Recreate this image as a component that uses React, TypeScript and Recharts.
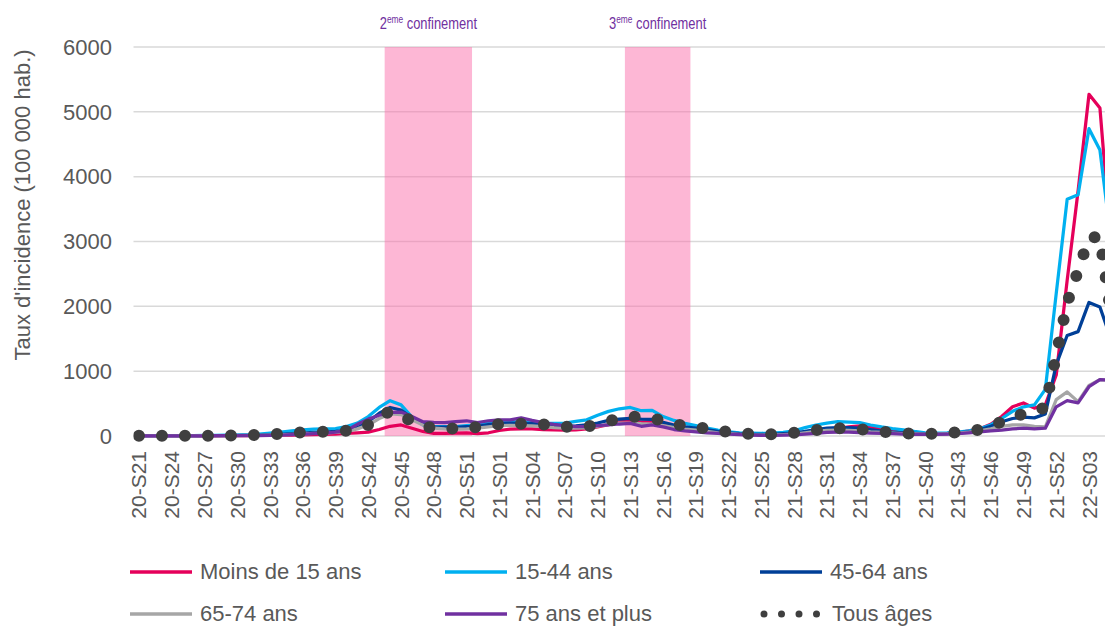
import React from 'react';
import { ComposedChart, Line, XAxis, YAxis, CartesianGrid, ReferenceArea, Legend } from 'recharts';

const FONT = '"Liberation Sans", Arial, Helvetica, sans-serif';
const TEXT = '#595959';

const weeks = [
  '20-S21','20-S22','20-S23','20-S24','20-S25','20-S26','20-S27','20-S28','20-S29','20-S30',
  '20-S31','20-S32','20-S33','20-S34','20-S35','20-S36','20-S37','20-S38','20-S39','20-S40',
  '20-S41','20-S42','20-S43','20-S44','20-S45','20-S46','20-S47','20-S48','20-S49','20-S50',
  '20-S51','20-S52','20-S53',
  '21-S01','21-S02','21-S03','21-S04','21-S05','21-S06','21-S07','21-S08','21-S09','21-S10',
  '21-S11','21-S12','21-S13','21-S14','21-S15','21-S16','21-S17','21-S18','21-S19','21-S20',
  '21-S21','21-S22','21-S23','21-S24','21-S25','21-S26','21-S27','21-S28','21-S29','21-S30',
  '21-S31','21-S32','21-S33','21-S34','21-S35','21-S36','21-S37','21-S38','21-S39','21-S40',
  '21-S41','21-S42','21-S43','21-S44','21-S45','21-S46','21-S47','21-S48','21-S49','21-S50',
  '21-S51','21-S52',
  '22-S01','22-S02','22-S03','22-S04','22-S05',
];

const moins15 = [
  2, 2, 2, 2, 2, 3, 3, 3, 4, 5,
  6, 8, 10, 12, 15, 18, 22, 25, 30, 40,
  50, 60, 100, 150, 170, 120, 70, 40, 40, 45,
  50, 35, 50, 85, 105, 110, 110, 100, 95, 90,
  95, 110, 140, 175, 220, 240, 215, 220, 190, 150,
  120, 100, 80, 60, 45, 35, 28, 22, 22, 25,
  35, 55, 75, 95, 115, 140, 155, 140, 110, 80,
  60, 40, 30, 28, 35, 50, 80, 110, 180, 300,
  450, 510, 430, 480, 940, 2400, 3780, 5270, 5060, 3000,
];

const ans15_44 = [
  5, 5, 5, 5, 6, 7, 8, 10, 12, 15,
  20, 30, 45, 60, 80, 95, 105, 110, 115, 145,
  200, 300, 440, 545, 480, 290, 170, 150, 145, 145,
  160, 170, 195, 215, 220, 215, 210, 200, 195, 200,
  225, 250, 320, 380, 420, 440, 390, 395, 300, 240,
  195, 160, 120, 90, 65, 50, 45, 42, 45, 55,
  80, 130, 170, 200, 220, 215, 205, 170, 140, 115,
  95, 70, 50, 45, 50, 60, 80, 110, 170, 270,
  380, 450, 480, 720, 2200, 3650, 3720, 4740, 4410, 3050,
];

const ans45_64 = [
  4, 4, 4, 4, 4, 5, 5, 6, 7, 8,
  10, 13, 18, 25, 35, 45, 55, 60, 70, 85,
  130, 220, 350, 440, 400, 280, 190, 140, 135, 135,
  145, 150, 175, 190, 200, 195, 190, 180, 160, 150,
  155, 170, 200, 240, 260, 270, 260, 255, 210, 170,
  140, 120, 100, 70, 50, 35, 28, 25, 27, 35,
  45, 70, 100, 120, 130, 130, 120, 100, 75, 60,
  50, 40, 32, 32, 38, 50, 65, 95, 150, 220,
  270, 290, 280, 340, 1100, 1550, 1610, 2060, 1990, 1500,
];

const ans65_74 = [
  3, 3, 3, 3, 3, 3, 4, 4, 5, 6,
  8, 10, 14, 18, 25, 32, 40, 45, 55, 70,
  110, 170, 270, 340, 330, 250, 170, 120, 110, 105,
  110, 120, 140, 160, 165, 160, 155, 145, 130, 120,
  120, 125, 150, 180, 200, 200, 190, 185, 160, 130,
  105, 90, 70, 50, 35, 25, 18, 15, 16, 20,
  30, 50, 70, 85, 90, 85, 80, 65, 55, 45,
  38, 32, 28, 30, 35, 45, 60, 80, 110, 150,
  170, 170, 150, 140, 560, 680, 530, 780, 870, 850,
];

const ans75plus = [
  3, 3, 3, 3, 3, 3, 3, 4, 4, 5,
  6, 7, 10, 14, 20, 28, 38, 45, 60, 85,
  180, 260, 320, 365, 370, 300, 220, 210, 205, 220,
  235, 205, 235, 250, 250, 280, 240, 205, 180, 160,
  145, 145, 160, 170, 185, 195, 150, 170, 140, 100,
  80, 65, 50, 40, 28, 20, 14, 10, 10, 12,
  18, 28, 40, 55, 60, 58, 52, 45, 40, 35,
  30, 26, 24, 25, 30, 38, 50, 65, 80, 90,
  110, 120, 110, 120, 450, 545, 510, 760, 870, 860,
];

const tousAges = [
  3, 3, 3, 4, 4, 5, 5, 6, 8, 10,
  13, 18, 25, 35, 45, 55, 60, 65, 70, 80,
  110, 170, 300, 380, 330, 220, 150, 125, 112, 115,
  120, 140, 165, 185, 195, 190, 185, 180, 160, 145,
  140, 145, 180, 230, 275, 300, 290, 270, 240, 185,
  155, 135, 115, 85, 60, 42, 32, 27, 27, 35,
  50, 70, 90, 115, 120, 115, 105, 85, 65, 55,
  45, 35, 30, 35, 45, 60, 70, 100, 160, 220,
  300, 340, 360, 450, 1250, 2050, 2550, 3060, 3070, 1900,
];

const yTicks = [0, 1000, 2000, 3000, 4000, 5000, 6000];
const confinementNumbers = ['2', '3'];
const confinementStart = ['20-S44', '21-S13'];
const confinementEnd = ['20-S51', '21-S18'];

const seriesDefs = [
  { key: 'moins15', name: 'Moins de 15 ans', color: '#e5005a', values: moins15 },
  { key: 'ans15_44', name: '15-44 ans', color: '#00b0f0', values: ans15_44 },
  { key: 'ans45_64', name: '45-64 ans', color: '#003f97', values: ans45_64 },
  { key: 'ans65_74', name: '65-74 ans', color: '#a6a6a6', values: ans65_74 },
  { key: 'ans75plus', name: '75 ans et plus', color: '#7030a0', values: ans75plus },
  { key: 'tous', name: 'Tous âges', color: '#3f3f3f', values: tousAges, dotted: true },
];

const data = weeks.map((w, i) => {
  const row: Record<string, any> = { idx: i, week: w };
  seriesDefs.forEach((s) => { row[s.key] = s.values[i]; });
  return row;
});

const xTicks = weeks.map((_, i) => i).filter((i) => i % 3 === 0);

const XTick = (props: any) => {
  const { x, y, payload } = props;
  const ty = y + 15;
  return (
    <text
      x={x}
      y={ty}
      transform={`rotate(-90 ${x} ${ty})`}
      textAnchor="end"
      dominantBaseline="central"
      fill={TEXT}
      fontFamily={FONT}
      fontSize={21}
    >
      {weeks[payload.value]}
    </text>
  );
};

const renderConfLabel = (num: string) => (props: any) => {
  const vb = props.viewBox || {};
  if (vb.x == null) return null;
  const cx = vb.x + vb.width / 2;
  const y = vb.y - 18;
  return (
    <g transform={`translate(${cx},${y}) scale(0.76,1)`}>
      <text x={0} y={0} textAnchor="middle" fill="#7030a0" fontFamily={FONT} fontSize={17}>
        {num}
        <tspan fontSize={11} dy={-6}>eme</tspan>
        <tspan dy={6}> confinement</tspan>
      </text>
    </g>
  );
};

const renderYLabel = () => (
  <text
    x={22}
    y={205}
    transform="rotate(-90 22 205)"
    textAnchor="middle"
    dominantBaseline="central"
    fill={TEXT}
    fontFamily={FONT}
    fontSize={22}
  >
    Taux d'incidence (100 000 hab.)
  </text>
);

const renderLegend = () => (
  <div style={{ position: 'relative', width: 1105, height: 70, fontFamily: FONT, fontSize: 22, color: TEXT }}>
    {seriesDefs.map((s, i) => {
      const col = i % 3;
      const row = Math.floor(i / 3);
      return (
        <div
          key={s.key}
          style={{ position: 'absolute', left: 130 + col * 315, top: row * 42, height: 28, display: 'flex', alignItems: 'center', whiteSpace: 'nowrap' }}
        >
          <svg width={64} height={12} style={{ display: 'block' }}>
            {s.dotted ? (
              <line x1={4} y1={6} x2={60} y2={6} stroke={s.color} strokeWidth={7} strokeLinecap="round" strokeDasharray="0 17.5" />
            ) : (
              <line x1={0} y1={6} x2={62} y2={6} stroke={s.color} strokeWidth={3.5} />
            )}
          </svg>
          <span style={{ marginLeft: s.dotted ? 8 : 6, lineHeight: '28px' }}>{s.name}</span>
        </div>
      );
    })}
  </div>
);

export default function App() {
  return (
    <div style={{ position: 'absolute', left: 0, top: 0, width: 1105, height: 626, overflow: 'hidden', background: '#ffffff' }}>
      <ComposedChart
        width={1140}
        height={626}
        data={data}
        margin={{ top: 47, right: 23.7, bottom: 100, left: 0 }}
      >
        {confinementStart.map((s, k) => (
          <ReferenceArea
            key={s}
            x1={weeks.indexOf(s) - 0.5}
            x2={weeks.indexOf(confinementEnd[k]) + 0.5}
            y1={0}
            y2={6000}
            fill="#fb6fab"
            fillOpacity={0.5}
            stroke="none"
            ifOverflow="visible"
            label={{ content: renderConfLabel(confinementNumbers[k]) }}
          />
        ))}
        <CartesianGrid horizontal vertical={false} stroke="#d9d9d9" strokeWidth={1.5} />
        <XAxis
          type="number"
          dataKey="idx"
          domain={[-0.5, weeks.length - 0.5]}
          ticks={xTicks}
          interval={0}
          tick={<XTick />}
          tickLine={false}
          axisLine={false}
          tickSize={0}
          tickMargin={0}
          height={90}
          allowDataOverflow
        />
        <YAxis
          type="number"
          domain={[0, 6000]}
          ticks={yTicks}
          width={133.5}
          tickLine={false}
          axisLine={false}
          tickSize={0}
          tickMargin={21.5}
          tick={{ fill: TEXT, fontSize: 22, fontFamily: FONT }}
          label={{ content: renderYLabel }}
        />
        {seriesDefs.map((s) =>
          s.dotted ? (
            <Line
              key={s.key}
              type="linear"
              dataKey={s.key}
              name={s.name}
              stroke={s.color}
              strokeWidth={12}
              strokeLinecap="round"
              strokeDasharray="0 23"
              dot={false}
              activeDot={false}
              isAnimationActive={false}
            />
          ) : (
            <Line
              key={s.key}
              type="linear"
              dataKey={s.key}
              name={s.name}
              stroke={s.color}
              strokeWidth={3.25}
              strokeLinejoin="round"
              dot={false}
              activeDot={false}
              isAnimationActive={false}
            />
          )
        )}
        <Legend
          layout="vertical"
          verticalAlign="middle"
          align="center"
          content={renderLegend}
          wrapperStyle={{ left: 0, top: 558, width: 1105, height: 70 }}
        />
      </ComposedChart>
    </div>
  );
}
